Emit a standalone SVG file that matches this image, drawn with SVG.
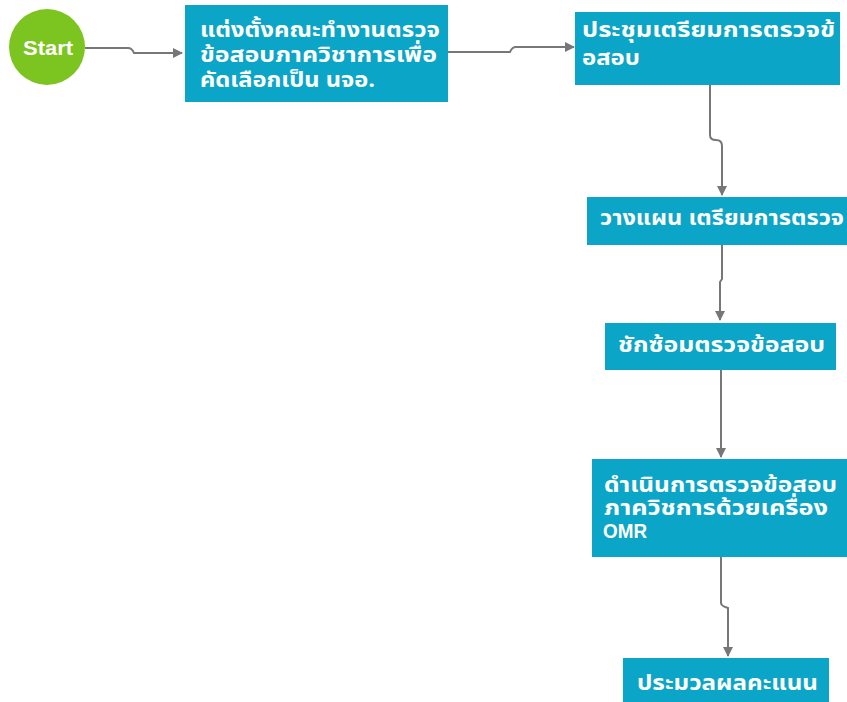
<svg xmlns="http://www.w3.org/2000/svg" width="847" height="702" viewBox="0 0 847 702">
<defs>
<style>
.box{fill:#0ba5c8;}
.t{fill:#ffffff;font-family:"Noto Sans Thai","Noto Sans","DejaVu Sans",sans-serif;font-weight:bold;font-size:21px;}
.c{fill:none;stroke:#777777;stroke-width:2;}
</style>
<marker id="ah" viewBox="0 0 10 10" refX="9" refY="5" markerWidth="10" markerHeight="10" markerUnits="userSpaceOnUse" orient="auto">
<path d="M0,0 L10,5 L0,10 z" fill="#777777"/>
</marker>
</defs>
<rect width="847" height="702" fill="#ffffff"/>
<g id="connectors">
<path class="c" marker-end="url(#ah)" d="M85,48 H128 Q132,48 134,53 H182"/>
<path class="c" marker-end="url(#ah)" d="M448,52 H510 Q512,47 516,47 H574"/>
<path class="c" marker-end="url(#ah)" d="M710,85 V135 Q710,140 716,140 Q722,140 722,146 V195"/>
<path class="c" marker-end="url(#ah)" d="M722,245 V279 L720,282 V320"/>
<path class="c" marker-end="url(#ah)" d="M721,370 V457"/>
<path class="c" marker-end="url(#ah)" d="M721,557 V603 Q721,606 728,608 V656"/>
</g>
<g id="start">
<circle cx="47" cy="47" r="38" fill="#7cc520"/>
<text x="23" y="55" textLength="50" lengthAdjust="spacingAndGlyphs" style="fill:#fff;font-family:'Liberation Sans',Arial,sans-serif;font-weight:bold;font-size:20px;">Start</text>
</g>
<g id="n1">
<rect class="box" x="185" y="5" width="263" height="97"/>
<text class="t" x="200" y="37" textLength="240" lengthAdjust="spacingAndGlyphs">แต่งตั้งคณะทำงานตรวจ</text>
<text class="t" x="200" y="62" textLength="237" lengthAdjust="spacingAndGlyphs">ข้อสอบภาควิชาการเพื่อ</text>
<text class="t" x="200" y="87" textLength="175" lengthAdjust="spacingAndGlyphs">คัดเลือกเป็น นจอ.</text>
</g>
<g id="n2">
<rect class="box" x="575" y="12" width="265" height="73"/>
<text class="t" x="582" y="37" textLength="253" lengthAdjust="spacingAndGlyphs">ประชุมเตรียมการตรวจข้</text>
<text class="t" x="582" y="65" textLength="58" lengthAdjust="spacingAndGlyphs">อสอบ</text>
</g>
<g id="n3">
<rect class="box" x="587" y="197" width="262" height="48"/>
<text class="t" x="600" y="225" textLength="244" lengthAdjust="spacingAndGlyphs">วางแผน เตรียมการตรวจ</text>
</g>
<g id="n4">
<rect class="box" x="605" y="323" width="231" height="47"/>
<text class="t" x="618" y="352" textLength="207" lengthAdjust="spacingAndGlyphs">ชักซ้อมตรวจข้อสอบ</text>
</g>
<g id="n5">
<rect class="box" x="592" y="459" width="257" height="98"/>
<text class="t" x="604" y="492" textLength="233" lengthAdjust="spacingAndGlyphs">ดำเนินการตรวจข้อสอบ</text>
<text class="t" x="604" y="515" textLength="224" lengthAdjust="spacingAndGlyphs">ภาควิชการด้วยเครื่อง</text>
<text x="603" y="538" textLength="44" lengthAdjust="spacingAndGlyphs" style="fill:#fff;font-family:'Liberation Sans',Arial,sans-serif;font-weight:bold;font-size:21px;">OMR</text>
</g>
<g id="n6">
<rect class="box" x="623" y="658" width="206" height="46"/>
<text class="t" x="637" y="690" textLength="181" lengthAdjust="spacingAndGlyphs">ประมวลผลคะแนน</text>
</g>
</svg>
